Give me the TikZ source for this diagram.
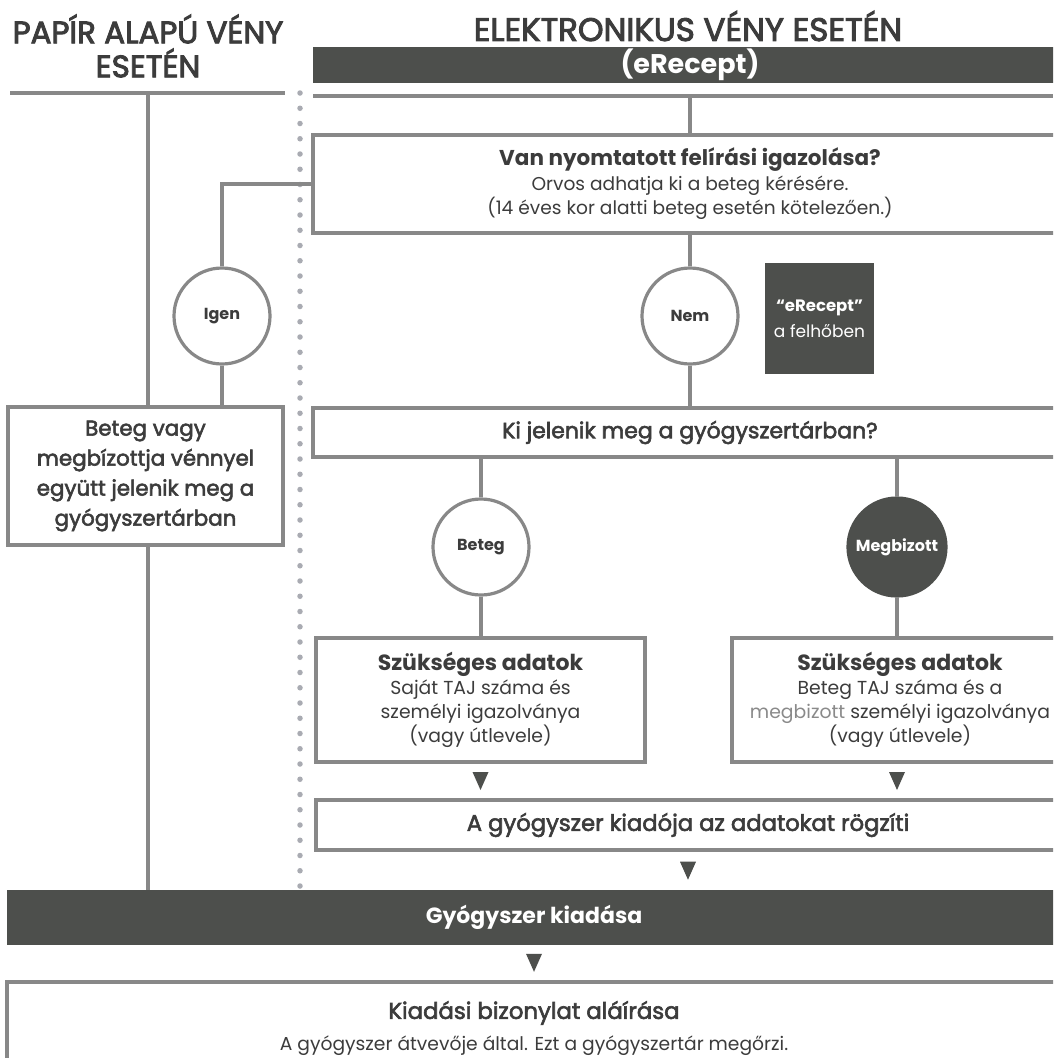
\documentclass[tikz,border=0pt]{standalone}
\usepackage{fontspec}
\setmainfont{Poppins}
\newfontfamily\headf{Poppins}[FakeBold=3]
\newfontfamily\semi{Poppins}[FakeBold=2.6]
\usetikzlibrary{calc}
\definecolor{txt}{HTML}{3C3C3C}
\definecolor{ln}{HTML}{888888}
\definecolor{dk}{HTML}{4D4F4C}
\definecolor{dotc}{HTML}{A9ABB2}
\definecolor{soft}{HTML}{8A8A8A}
\begin{document}
\begin{tikzpicture}[x=1pt,y=-1pt,
  conn/.style={draw=ln,line width=3.2pt},
  rule/.style={draw=ln,line width=3.2pt},
  boxr/.style={draw=ln,line width=3.2pt,fill=white,inner sep=0pt,align=center,text=txt},
  darkbar/.style={fill=dk,inner sep=0pt,align=center,text=white},
  circw/.style={circle,draw=ln,line width=3.2pt,minimum size=96pt,inner sep=0pt,fill=white,text=txt,font=\fontsize{16}{18}\selectfont\bfseries},
  circd/.style={circle,draw=dk,line width=3.2pt,minimum size=98pt,inner sep=0pt,fill=dk,text=white,font=\fontsize{16}{18}\selectfont\bfseries},
  head/.style={align=center,text=txt},
  tri/.pic={\fill[dk] (-8,-9) -- (8,-9) -- (0,9) -- cycle;}
]
\useasboundingbox (0,0) rectangle (1053,1058);
\clip (0,0) rectangle (1053,1058);
\fill[white] (0,0) rectangle (1053,1058);

% headings
\node[head,font=\headf\fontsize{31}{34}\selectfont] (hl) at (148,46) {PAPÍR ALAPÚ VÉNY\\ESETÉN};
\node[head,font=\headf\fontsize{32.5}{36}\selectfont] (hr) at (688,26) {ELEKTRONIKUS VÉNY ESETÉN};
\node[darkbar,minimum width=754pt,minimum height=36pt,font=\fontsize{27}{30}\selectfont\bfseries] (bar1) at (690,65) {(eRecept)};
\draw[rule] (10,93) -- (285,93);
\draw[rule] (313,96) -- (1053,96);
\draw[dotc,line width=5.5pt,line cap=round,dash pattern=on 0pt off 15.25pt] (300,93) -- (300,888);

\coordinate (ltop) at (148,93);
\coordinate (rtop) at (690,96);

% boxes
\node[boxr,minimum width=754pt,minimum height=98pt,font=\fontsize{18.6}{24.5}\selectfont] (van) at (690,184)
  {{\fontsize{21.5}{24}\selectfont\bfseries Van nyomtatott felírási igazolása?}\\Orvos adhatja ki a beteg kérésére.\\(14 éves kor alatti beteg esetén kötelezően.)};
\node[circw] (igen) at (222,316) {Igen};
\node[circw] (nem) at (690,316) {Nem};
\node[darkbar,minimum width=109pt,minimum height=111pt,font=\fontsize{17}{26}\selectfont] (cloud) at (819.5,318.5)
  {{\fontsize{16.5}{26}\selectfont\bfseries “eRecept”}\\a felhőben};
\node[boxr,minimum width=275pt,minimum height=138pt,font=\semi\fontsize{21.4}{30}\selectfont] (lbox) at (145.5,476)
  {Beteg vagy\\megbízottja vénnyel\\együtt jelenik meg a\\gyógyszertárban};
\node[boxr,minimum width=754pt,minimum height=49pt,font=\semi\fontsize{22}{24}\selectfont] (ki) at (690,432.5)
  {Ki jelenik meg a gyógyszertárban?};
\node[circw] (beteg) at (481,547) {Beteg};
\node[circd] (megb) at (897,547) {Megbizott};
\node[boxr,minimum width=329pt,minimum height=124pt,font=\fontsize{18.8}{24}\selectfont] (dl) at (480.5,700)
  {{\fontsize{22}{24}\selectfont\bfseries Szükséges adatok}\\Saját TAJ száma és\\személyi igazolványa\\(vagy útlevele)};
\node[boxr,minimum width=336pt,minimum height=124pt,font=\fontsize{18.8}{24}\selectfont] (dr) at (900,700)
  {{\fontsize{22}{24}\selectfont\bfseries Szükséges adatok}\\Beteg TAJ száma és a\\{\color{soft}megbizott} személyi igazolványa\\(vagy útlevele)};
\node[boxr,minimum width=744pt,minimum height=50pt,font=\semi\fontsize{22.7}{25}\selectfont] (rog) at (688,825)
  {A gyógyszer kiadója az adatokat rögzíti};
\node[darkbar,minimum width=1054pt,minimum height=55pt,font=\fontsize{22}{24}\selectfont\bfseries] (bar2) at (534,917.5)
  {Gyógyszer kiadása};
\node[boxr,minimum width=1054pt,minimum height=93pt,font=\fontsize{18.7}{32}\selectfont] (alair) at (534,1028.5)
  {{\semi\fontsize{22.8}{26}\selectfont Kiadási bizonylat aláírása}\\A gyógyszer átvevője által. Ezt a gyógyszertár megőrzi.};

% connectors
\draw[conn] (ltop) -- (ltop |- lbox.north);
\draw[conn] (ltop |- lbox.south) -- (ltop |- bar2.north);
\draw[conn] (rtop) -- (van.north);
\draw[conn] (van.west) -| (igen.north);
\draw[conn] (igen.south) -- (igen.south |- lbox.north);
\draw[conn] (van.south) -- (nem.north);
\draw[conn] (nem.south) -- (ki.north);
\draw[conn] (beteg.north |- ki.south) -- (beteg.north);
\draw[conn] (megb.north |- ki.south) -- (megb.north);
\draw[conn] (beteg.south) -- (beteg.south |- dl.north);
\draw[conn] (megb.south) -- (megb.south |- dr.north);

% arrowheads
\pic at ($(dl.south)!0.5!(dl.south |- rog.north)$) {tri};
\pic at ($(megb.south |- dr.south)!0.5!(megb.south |- rog.north)$) {tri};
\pic at ($(rog.south)!0.5!(rog.south |- bar2.north)$) {tri};
\pic at ($(bar2.south)!0.5!(bar2.south |- alair.north)$) {tri};
\end{tikzpicture}
\end{document}
